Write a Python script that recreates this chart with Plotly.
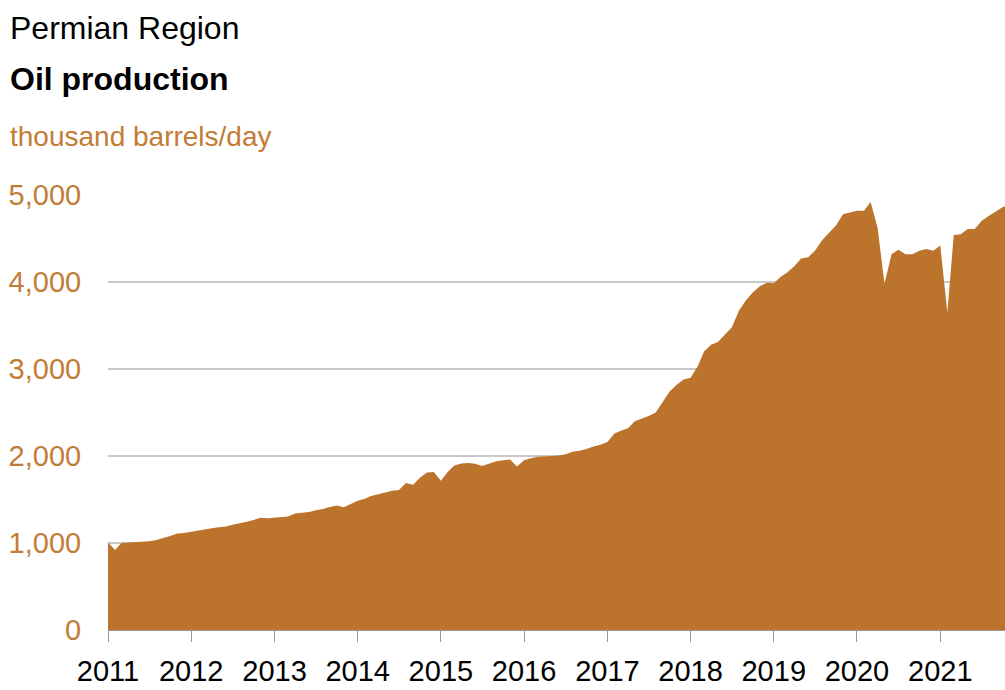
import pandas as pd
import plotly.graph_objects as go

# Monthly Permian oil production, thousand barrels/day, Jan 2011 - Nov 2021
values = [
    1005, 920, 1000, 1005, 1010, 1015, 1020, 1035, 1055, 1080, 1110, 1115,   # 2011
    1130, 1145, 1160, 1170, 1180, 1190, 1210, 1225, 1245, 1265, 1290, 1285,  # 2012
    1290, 1300, 1305, 1340, 1350, 1355, 1375, 1390, 1415, 1430, 1410, 1450,  # 2013
    1485, 1510, 1540, 1560, 1580, 1600, 1610, 1690, 1670, 1750, 1810, 1815,  # 2014
    1715, 1820, 1890, 1915, 1920, 1910, 1885, 1910, 1940, 1950, 1960, 1880,  # 2015
    1950, 1975, 1990, 1995, 2000, 2005, 2020, 2050, 2060, 2080, 2110, 2130,  # 2016
    2160, 2260, 2290, 2320, 2400, 2430, 2460, 2500, 2620, 2740, 2820, 2880,  # 2017
    2900, 3030, 3200, 3280, 3310, 3400, 3480, 3670, 3790, 3880, 3950, 3990,  # 2018
    3985, 4060, 4110, 4180, 4270, 4285, 4360, 4480, 4570, 4650, 4780, 4800,  # 2019
    4820, 4820, 4920, 4620, 3980, 4320, 4370, 4320, 4320, 4360, 4380, 4360,  # 2020
    4420, 3650, 4540, 4550, 4610, 4610, 4700, 4760, 4810, 4860, 4890,        # 2021
]
dates = pd.date_range("2011-01-01", periods=len(values), freq="MS")

year_ticks = [f"{y}-01-01" for y in range(2011, 2022)]
year_labels = [str(y) for y in range(2011, 2022)]
y_ticks = [0, 1000, 2000, 3000, 4000, 5000]
y_labels = ["0", "1,000", "2,000", "3,000", "4,000", "5,000"]

FILL = "#bc732c"
LABEL = "#c27c36"
FONT = "Liberation Sans, Arial, sans-serif"

fig = go.Figure()
fig.add_trace(go.Scatter(
    x=dates, y=values, mode="lines", fill="tozeroy",
    line=dict(width=0, color=FILL), fillcolor=FILL, hoverinfo="x+y",
))

L, R, T, B = 108, 0, 195, 60
W, H = 1005, 690
pw, ph = W - L - R, H - T - B

def px(x):
    return (x - L) / pw

def py(y):
    return (H - B - y) / ph

fig.update_layout(
    width=W, height=H,
    margin=dict(l=L, r=R, t=T, b=B, autoexpand=False),
    paper_bgcolor="white", plot_bgcolor="white",
    showlegend=False,
    font=dict(family=FONT, size=29, color="black"),
    xaxis=dict(
        type="date", automargin=False,
        range=["2011-01-01", "2021-10-12"],
        tickvals=year_ticks, ticktext=year_labels,
        ticks="outside", ticklen=11, tickcolor="#999999", tickwidth=1,
        ticklabelstandoff=4,
        showline=True, linecolor="#999999", linewidth=1,
        showgrid=False, zeroline=False,
        tickfont=dict(family=FONT, size=29, color="black"),
    ),
    yaxis=dict(
        range=[0, 5000], automargin=False,
        tickvals=y_ticks, ticktext=y_labels,
        ticks="outside", ticklen=20, tickcolor="rgba(0,0,0,0)",
        showgrid=True, gridcolor="#c8c8c8", gridwidth=1.5,
        zeroline=False, showline=False,
        tickfont=dict(family=FONT, size=29, color=LABEL),
    ),
    annotations=[
        dict(text="Permian Region", xref="paper", yref="paper",
             x=px(8), y=py(28), xanchor="left", yanchor="middle",
             showarrow=False, font=dict(family=FONT, size=32, color="black")),
        dict(text="<b>Oil production</b>", xref="paper", yref="paper",
             x=px(8), y=py(79), xanchor="left", yanchor="middle",
             showarrow=False, font=dict(family=FONT, size=32, color="black")),
        dict(text="thousand barrels/day", xref="paper", yref="paper",
             x=px(8), y=py(136), xanchor="left", yanchor="middle",
             showarrow=False, font=dict(family=FONT, size=28, color=LABEL)),
    ],
)

fig.write_html(
    "out.html",
    config={"displayModeBar": False},
    post_script="document.body.style.margin='0';document.body.style.overflow='hidden';",
)
